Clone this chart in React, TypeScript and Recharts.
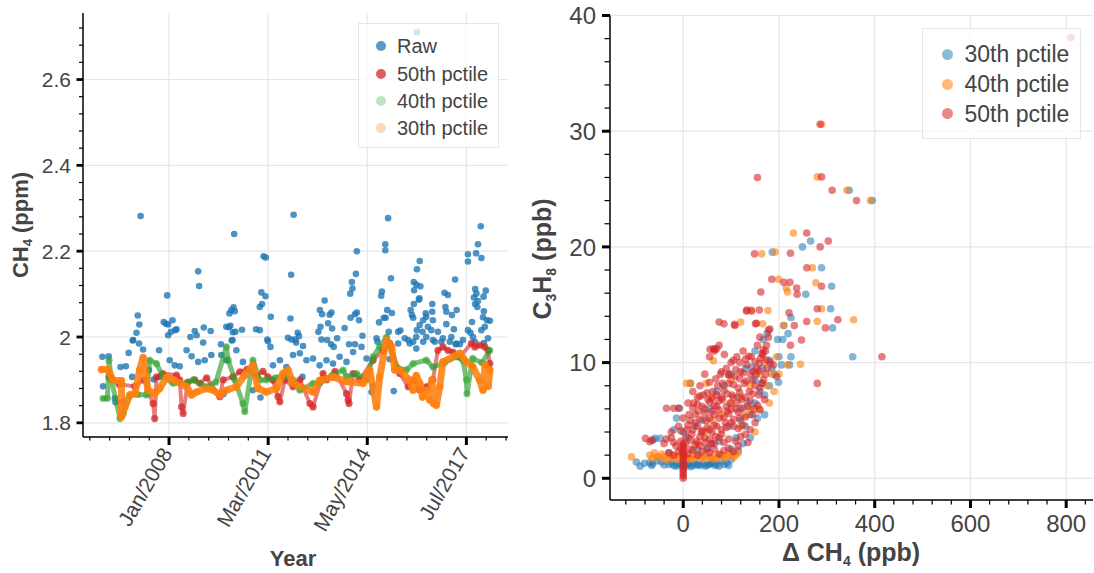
import React from 'react';
import { ScatterChart, Scatter, XAxis, YAxis, CartesianGrid } from 'recharts';

const FONT = "'Liberation Sans', Arial, Helvetica, sans-serif";
const INK = '#444';
const GRID = '#e6e6e6';

const BLUE = '#1f77b4';
const ORANGE = '#ff7f0e';
const GREEN = '#2ca02c';
const RED = '#d62728';

// ---- left panel: CH4 vs time (decimal year, ppm) ----
const LEFT_X_MAJOR = [2008, 2011.1667, 2014.3333, 2017.5];
const LEFT_X_LABELS = ['Jan/2008', 'Mar/2011', 'May/2014', 'Jul/2017'];
const LEFT_X_MINOR = [2005.467, 2006.1, 2006.733, 2007.367, 2008.633, 2009.267, 2009.9, 2010.533, 2011.8, 2012.433, 2013.067, 2013.7, 2014.967, 2015.6, 2016.233, 2016.867, 2018.133, 2018.767];
const LEFT_Y_MAJOR = [1.8, 2.0, 2.2, 2.4, 2.6];
const LEFT_Y_LABELS = ['1.8', '2', '2.2', '2.4', '2.6'];
const LEFT_Y_MINOR = [1.84, 1.88, 1.92, 1.96, 2.04, 2.08, 2.12, 2.16, 2.24, 2.28, 2.32, 2.36, 2.44, 2.48, 2.52, 2.56, 2.64, 2.68, 2.72];

const RAW = [
  [2005.87, 1.954], [2005.89, 1.885], [2006.07, 1.955], [2006.27, 1.857], [2006.29, 1.848], [2006.45, 1.93], [2006.5, 1.848], [2006.62, 1.932], [2006.71, 1.963], [2006.82, 1.907],
  [2006.84, 1.992], [2006.85, 1.993], [2006.96, 2.01], [2007.0, 2.05], [2007.04, 1.985], [2007.05, 2.029], [2007.09, 2.282], [2007.17, 1.971], [2007.36, 1.923], [2007.51, 1.901],
  [2007.68, 1.969], [2007.7, 1.907], [2007.83, 2.035], [2007.9, 2.031], [2007.94, 2.097], [2007.97, 2.029], [2007.97, 2.004], [2008.02, 1.946], [2008.06, 2.012], [2008.11, 2.039],
  [2008.18, 1.934], [2008.2, 2.016], [2008.24, 2.018], [2008.34, 1.932], [2008.56, 1.969], [2008.68, 2.0], [2008.72, 1.955], [2008.82, 2.014], [2008.88, 2.004], [2008.93, 2.153],
  [2008.93, 1.942], [2008.96, 2.119], [2009.09, 1.987], [2009.11, 2.022], [2009.14, 1.946], [2009.33, 2.014], [2009.35, 1.958], [2009.66, 1.983], [2009.67, 1.958], [2009.74, 1.867],
  [2009.83, 2.024], [2009.83, 1.946], [2009.91, 2.023], [2009.93, 2.055], [2009.96, 2.026], [2009.99, 2.063], [2010.0, 1.992], [2010.03, 1.993], [2010.04, 2.011], [2010.06, 2.069],
  [2010.08, 2.24], [2010.1, 2.06], [2010.12, 2.012], [2010.15, 1.969], [2010.33, 2.017], [2010.36, 1.942], [2010.68, 1.876], [2010.78, 2.018], [2010.9, 2.016], [2010.9, 2.07],
  [2010.92, 1.859], [2010.95, 2.104], [2010.97, 2.077], [2011.02, 2.188], [2011.08, 2.095], [2011.09, 2.185], [2011.14, 1.994], [2011.16, 1.99], [2011.24, 1.977], [2011.25, 2.047],
  [2011.32, 1.934], [2011.54, 1.946], [2011.75, 1.93], [2011.8, 1.998], [2011.88, 2.043], [2011.9, 2.145], [2011.91, 1.994], [2011.96, 1.958], [2011.98, 2.285], [2012.03, 1.994],
  [2012.06, 1.987], [2012.11, 2.01], [2012.15, 2.002], [2012.18, 1.962], [2012.26, 1.907], [2012.28, 1.979], [2012.39, 1.946], [2012.6, 1.95], [2012.77, 2.012], [2012.81, 1.934],
  [2012.82, 2.063], [2012.84, 2.024], [2012.87, 1.994], [2012.89, 2.053], [2012.97, 2.085], [2013.03, 1.946], [2013.05, 1.993], [2013.08, 2.032], [2013.13, 2.052], [2013.18, 1.983],
  [2013.19, 2.057], [2013.21, 2.02], [2013.24, 1.938], [2013.26, 1.977], [2013.37, 1.997], [2013.45, 1.954], [2013.61, 2.021], [2013.67, 1.942], [2013.75, 1.983], [2013.79, 2.101],
  [2013.8, 2.045], [2013.84, 2.128], [2013.86, 2.113], [2013.88, 1.965], [2013.94, 2.053], [2013.94, 1.983], [2013.97, 2.147], [2014.0, 2.2], [2014.0, 2.057], [2014.07, 2.039],
  [2014.15, 1.977], [2014.18, 2.003], [2014.31, 1.95], [2014.47, 1.872], [2014.52, 1.885], [2014.63, 1.997], [2014.66, 1.989], [2014.71, 2.034], [2014.78, 2.096], [2014.8, 2.106],
  [2014.86, 2.045], [2014.91, 2.216], [2014.91, 2.202], [2014.92, 2.045], [2014.97, 2.063], [2015.0, 2.277], [2015.02, 2.012], [2015.05, 1.948], [2015.09, 2.137], [2015.12, 2.056],
  [2015.18, 1.874], [2015.32, 2.012], [2015.32, 1.985], [2015.39, 2.015], [2015.53, 1.997], [2015.64, 1.993], [2015.69, 1.985], [2015.72, 2.063], [2015.76, 2.051], [2015.8, 2.045],
  [2015.8, 1.989], [2015.82, 2.077], [2015.82, 2.128], [2015.83, 2.109], [2015.9, 2.122], [2015.9, 2.0], [2015.9, 1.973], [2015.92, 2.158], [2015.92, 2.016], [2015.92, 2.71],
  [2015.98, 2.087], [2016.0, 2.09], [2016.01, 2.177], [2016.01, 2.028], [2016.03, 2.118], [2016.1, 2.012], [2016.12, 2.039], [2016.12, 1.989], [2016.2, 2.055], [2016.22, 2.047],
  [2016.22, 2.0], [2016.27, 2.024], [2016.38, 2.016], [2016.41, 2.077], [2016.41, 2.059], [2016.43, 2.039], [2016.43, 1.993], [2016.49, 1.989], [2016.59, 2.012], [2016.7, 1.989],
  [2016.75, 1.997], [2016.8, 2.103], [2016.83, 2.07], [2016.86, 2.059], [2016.86, 2.03], [2016.91, 2.098], [2016.97, 1.989], [2017.02, 2.0], [2017.04, 2.051], [2017.1, 2.018],
  [2017.14, 2.134], [2017.16, 1.983], [2017.18, 1.985], [2017.19, 2.063], [2017.29, 1.983], [2017.39, 1.993], [2017.55, 2.193], [2017.55, 2.176], [2017.55, 2.016], [2017.63, 2.01],
  [2017.68, 2.035], [2017.71, 2.0], [2017.74, 2.092], [2017.77, 1.989], [2017.78, 2.112], [2017.78, 2.077], [2017.81, 2.195], [2017.82, 2.101], [2017.85, 2.07], [2017.87, 2.216],
  [2017.87, 2.084], [2017.96, 2.258], [2017.98, 2.184], [2017.98, 2.016], [2018.03, 2.046], [2018.05, 2.094], [2018.06, 2.06], [2018.06, 1.986], [2018.09, 2.024], [2018.12, 2.108],
  [2018.16, 2.039], [2018.19, 1.997], [2018.25, 2.038],
];

const P50 = [
  [2006.08, 1.907], [2006.16, 1.903], [2006.4, 1.89], [2006.9, 1.885], [2007.2, 1.9], [2007.49, 1.845], [2007.54, 1.81], [2007.6, 1.907], [2007.8, 1.915], [2008.24, 1.911],
  [2008.34, 1.9], [2008.4, 1.837], [2008.45, 1.822], [2008.6, 1.895], [2008.82, 1.9], [2008.98, 1.892], [2009.2, 1.905], [2009.62, 1.861], [2009.73, 1.9], [2010.04, 1.907],
  [2010.26, 1.919], [2010.5, 1.925], [2010.8, 1.91], [2011.0, 1.92], [2011.16, 1.907], [2011.32, 1.899], [2011.48, 1.861], [2011.54, 1.849], [2011.7, 1.9], [2011.96, 1.884],
  [2012.18, 1.9], [2012.5, 1.845], [2012.6, 1.837], [2012.92, 1.915], [2013.03, 1.9], [2013.3, 1.92], [2013.67, 1.868], [2013.72, 1.853], [2013.75, 1.845], [2013.88, 1.915],
  [2014.09, 1.9], [2014.52, 1.946], [2014.84, 1.969], [2015.05, 1.985], [2015.37, 1.915], [2015.64, 1.884], [2015.8, 1.9], [2016.01, 1.876], [2016.22, 1.884], [2016.43, 1.9],
  [2016.59, 1.969], [2016.75, 1.977], [2016.91, 1.969], [2017.07, 1.965], [2017.29, 1.954], [2017.66, 1.985], [2017.77, 1.977], [2017.93, 1.981], [2018.09, 1.977], [2018.19, 1.969],
  [2018.25, 1.938],
];

const P40 = [
  [2005.89, 1.857], [2006.03, 1.857], [2006.08, 1.946], [2006.16, 1.9], [2006.43, 1.81], [2006.54, 1.822], [2006.75, 1.865], [2007.0, 1.866], [2007.28, 1.865], [2007.38, 1.946],
  [2007.6, 1.938], [2007.81, 1.907], [2008.13, 1.892], [2008.56, 1.892], [2008.77, 1.9], [2009.19, 1.884], [2009.5, 1.895], [2009.83, 1.977], [2009.89, 1.946], [2010.1, 1.9],
  [2010.36, 1.845], [2010.42, 1.826], [2010.68, 1.946], [2010.9, 1.9], [2011.11, 1.9], [2011.4, 1.905], [2011.7, 1.91], [2011.96, 1.9], [2012.18, 1.876], [2012.6, 1.892],
  [2012.81, 1.892], [2013.2, 1.91], [2013.56, 1.923], [2013.67, 1.907], [2013.99, 1.915], [2014.3, 1.9], [2014.52, 1.954], [2014.73, 1.977], [2014.95, 2.0], [2015.27, 1.93],
  [2015.58, 1.923], [2015.8, 1.938], [2016.22, 1.946], [2016.43, 1.93], [2016.8, 1.94], [2017.18, 1.954], [2017.39, 1.946], [2017.5, 1.9], [2017.52, 1.868], [2017.7, 1.95],
  [2018.0, 1.94], [2018.25, 1.969],
];

const P30 = [
  [2005.84, 1.924], [2006.05, 1.924], [2006.21, 1.899], [2006.48, 1.898], [2006.48, 1.814], [2006.59, 1.837], [2006.75, 1.865], [2006.91, 1.868], [2007.06, 1.923], [2007.17, 1.952],
  [2007.33, 1.876], [2007.54, 1.868], [2007.7, 1.88], [2007.92, 1.906], [2008.18, 1.899], [2008.56, 1.884], [2008.72, 1.865], [2008.88, 1.872], [2009.19, 1.88], [2009.41, 1.876],
  [2009.62, 1.865], [2009.83, 1.876], [2010.15, 1.884], [2010.42, 1.911], [2010.68, 1.934], [2010.84, 1.88], [2011.11, 1.872], [2011.43, 1.88], [2011.64, 1.915], [2011.8, 1.923],
  [2011.96, 1.892], [2012.6, 1.872], [2012.81, 1.899], [2013.24, 1.907], [2013.67, 1.896], [2014.2, 1.892], [2014.41, 1.923], [2014.63, 1.837], [2014.73, 1.907], [2014.95, 1.993],
  [2015.11, 1.977], [2015.21, 1.923], [2015.37, 1.923], [2015.69, 1.899], [2015.8, 1.876], [2015.9, 1.91], [2016.01, 1.892], [2016.1, 1.86], [2016.22, 1.876], [2016.33, 1.853],
  [2016.4, 1.9], [2016.45, 1.845], [2016.54, 1.841], [2016.65, 1.884], [2016.75, 1.942], [2017.29, 1.962], [2017.5, 1.942], [2017.71, 1.93], [2017.93, 1.899], [2018.03, 1.876],
  [2018.1, 1.935], [2018.2, 1.885], [2018.25, 1.923],
];

// ---- right panel: C3H8 (ppb) vs delta CH4 (ppb) ----
const RIGHT_X_MAJOR = [0, 200, 400, 600, 800];
const RIGHT_X_MINOR = [-120, -80, -40, 40, 80, 120, 160, 240, 280, 320, 360, 440, 480, 520, 560, 640, 680, 720, 760, 840];
const RIGHT_Y_MAJOR = [0, 10, 20, 30, 40];
const RIGHT_Y_MINOR = [2, 4, 6, 8, 12, 14, 16, 18, 22, 24, 26, 28, 32, 34, 36, 38];

const Q30 = [
  [-98, 1.4], [-90, 1.05], [-81, 1.3], [-70, 1.35], [-66, 1.1], [-64, 1.25], [-55, 1.5], [-45, 1.4], [-40, 1.15], [-30, 1.2], [-25, 1.35], [-20, 1.1], [-15, 1.05],
  [-12, 1.25], [-5, 1.1], [0, 1.15], [5, 1.05], [8, 1.3], [12, 1.2], [16, 1.0], [20, 1.1], [24, 1.3], [28, 1.15], [32, 1.2], [35, 1.1], [42, 1.25], [46, 1.05],
  [50, 1.15], [54, 1.2], [58, 1.3], [63, 1.3], [66, 1.1], [70, 1.2], [75, 1.05], [80, 1.5], [85, 1.2], [91, 1.3], [95, 1.1], [100, 1.6],
  [-63, 3.3], [-59, 3.45], [-48, 3.45], [-30, 2.2], [-20, 4.2], [-14, 5.2], [-9, 6.05], [0, 4.0], [10, 3.5], [15, 8.2], [25, 4.5], [30, 2.5], [40, 5.0], [50, 2.5],
  [55, 6.0], [60, 3.0], [70, 7.5], [75, 3.2], [85, 8.0], [95, 4.5], [100, 9.0], [100, 2.5], [110, 3.5], [115, 7.0], [115, 2.4], [120, 6.0], [120, 5.0], [125, 3.0],
  [130, 9.5], [130, 4.5], [135, 6.5], [140, 5.5], [140, 3.5], [143, 9.6], [150, 11.0], [150, 6.5], [150, 8.5], [155, 5.2], [160, 7.5], [164, 8.2], [165, 9.5],
  [167, 12.0], [170, 7.2], [170, 5.5], [175, 12.5], [180, 8.0], [180, 10.2], [185, 9.5], [190, 9.0], [197, 12.0], [199, 8.3], [200, 10.5], [205, 9.8], [208, 12.0],
  [210, 13.2], [219, 12.5], [222, 9.8], [225, 10.5], [225, 13.9],
  [186, 19.55], [249, 20.0], [256, 15.9], [266, 20.5], [289, 18.2], [310, 16.6], [308, 14.65], [312, 13.0], [347, 24.9], [354, 10.5], [395, 24.0],
];

const Q40 = [
  [-108, 1.85], [-70, 2.0], [-65, 1.7], [-60, 2.2], [-55, 1.9], [-50, 1.8], [-45, 2.1], [-40, 1.9], [-35, 1.6], [-30, 1.7], [-25, 2.0], [-20, 1.8], [-15, 1.65],
  [-10, 1.9], [-5, 2.0], [0, 1.7], [5, 1.9], [10, 1.8], [15, 1.65], [20, 1.7], [25, 2.0], [30, 1.9], [35, 1.7], [40, 1.8], [45, 2.0], [50, 1.7], [55, 1.8],
  [60, 1.9], [65, 1.65], [70, 1.8], [75, 2.0], [80, 2.0], [85, 1.7], [90, 1.9], [95, 2.0], [100, 2.2], [105, 1.8], [110, 2.0], [115, 2.2],
  [7, 8.2], [15, 8.2], [30, 3.0], [45, 4.0], [48, 8.2], [60, 5.0], [60, 7.0], [63, 10.15], [80, 5.5], [100, 6.5], [100, 8.5], [120, 7.0], [120, 4.5], [120, 13.5],
  [130, 5.5], [140, 8.0], [140, 6.0], [142, 14.55], [150, 4.0], [160, 9.0], [160, 6.0], [164, 19.4], [166, 13.35], [170, 10.0], [175, 8.0], [177, 14.5], [180, 6.5],
  [185, 9.0], [190, 7.5], [192, 19.55], [195, 10.5], [199, 17.2], [200, 9.0], [210, 13.2], [215, 16.45], [218, 16.1], [218, 9.8], [230, 21.2], [245, 9.85],
  [270, 18.2], [277, 16.9], [280, 13.55], [280, 26.05], [289, 14.65], [289, 30.6], [342, 24.9], [356, 13.7], [391, 24.0],
];

const Q50 = [
  [0, 0], [0, 0.2], [0, 0.4], [0, 0.6], [0, 0.8], [0, 1.0], [0, 1.2], [0, 1.4], [0, 1.6], [0, 1.8], [0, 2.0], [0, 2.2], [0, 2.4], [0, 2.6], [0, 2.8], [0, 3.0],
  [-79, 3.45], [-70, 3.16], [-66, 3.3], [-40, 3.0], [-35, 6.05], [-35, 3.4], [-30, 2.2], [-25, 3.5], [-25, 4.0], [-20, 6.05], [-20, 3.1], [-20, 2.0], [-15, 2.8],
  [-10, 4.5], [-10, 2.3], [-9, 6.05], [-5, 3.2], [-5, 2.6], [-5, 4.1], [0, 5.2], [5, 3.0], [5, 3.6], [8, 4.2], [10, 6.5], [10, 2.1], [10, 4.6], [12, 5.5],
  [15, 2.5], [15, 3.3], [15, 5.0], [18, 3.8], [20, 7.5], [20, 2.4], [20, 4.2], [20, 6.1], [22, 6.5], [25, 4.8], [25, 2.9], [25, 5.5], [28, 3.2], [30, 7.0],
  [30, 2.0], [30, 4.5], [30, 6.4], [32, 5.8], [35, 2.8], [35, 8.0], [35, 3.6], [35, 5.1], [35, 7.1], [38, 4.0], [40, 6.2], [40, 2.3], [40, 4.1], [42, 7.2],
  [45, 3.5], [45, 9.0], [45, 3.1], [45, 5.6], [45, 6.0], [48, 5.0], [50, 2.6], [50, 4.4], [50, 7.4], [52, 6.8], [55, 4.2], [55, 10.5], [55, 2.2], [55, 3.4],
  [55, 5.2], [55, 6.6], [55, 8.3], [56, 11.15], [58, 3.0], [60, 5.8], [60, 4.0], [60, 6.9], [62, 7.5], [65, 4.6], [65, 11.0], [65, 2.5], [65, 3.0], [65, 5.5],
  [65, 6.3], [66, 11.15], [68, 3.6], [68, 8.6], [70, 6.2], [70, 4.5], [70, 7.2], [72, 8.0], [75, 5.2], [75, 11.5], [75, 2.1], [75, 3.5], [75, 5.9], [75, 6.7],
  [78, 9.0], [80, 3.8], [80, 4.2], [80, 7.0], [80, 9.2], [82, 6.8], [82, 8.2], [85, 7.6], [85, 2.4], [85, 3.1], [85, 5.3], [88, 4.8], [90, 9.5], [90, 4.4],
  [90, 6.2], [92, 5.8], [92, 7.3], [95, 8.2], [95, 2.6], [95, 3.4], [95, 5.6], [95, 8.9], [95, 9.0], [98, 6.5], [100, 10.0], [100, 4.8], [100, 6.0], [102, 7.2],
  [105, 4.5], [105, 2.3], [105, 5.1], [105, 7.0], [105, 8.1], [105, 10.2], [108, 8.8], [108, 13.2], [110, 6.0], [110, 3.2], [110, 9.4], [112, 10.5], [112, 6.5],
  [115, 7.8], [115, 2.8], [115, 4.3], [115, 5.7], [118, 5.2], [118, 7.4], [118, 8.6], [118, 10.0], [120, 9.2], [120, 3.6], [122, 6.8], [125, 11.0], [125, 4.6],
  [125, 6.1], [125, 9.1], [128, 8.2], [130, 3.8], [130, 5.3], [130, 7.0], [130, 10.3], [132, 14.45], [132, 8.4], [133, 9.8], [135, 6.2], [135, 3.1], [138, 7.5],
  [140, 4.2], [140, 6.7], [140, 9.0], [142, 10.5], [143, 14.45], [145, 8.5], [145, 5.5], [145, 7.3], [146, 9.2], [148, 6.0], [150, 4.8], [150, 8.0], [150, 10.1],
  [152, 9.0], [153, 9.5], [153, 13.4], [155, 11.5], [155, 6.3], [158, 7.2], [158, 9.3], [159, 9.94], [160, 12.2], [160, 5.9], [160, 7.8], [162, 10.4], [165, 10.8],
  [165, 8.2], [166, 10.65], [167, 11.1], [168, 8.5], [170, 6.8], [172, 11.0], [172, 9.0], [174, 11.5], [175, 9.5], [175, 10.2], [178, 12.2], [178, 12.8],
  [181, 12.9], [182, 10.0], [188, 9.8], [195, 8.8],
  [155, 26.0], [286, 30.6], [289, 26.05], [311, 24.9], [362, 24.0], [258, 21.2], [303, 20.5], [286, 20.0], [224, 19.45], [149, 19.4], [258, 18.2], [185, 17.2],
  [210, 16.95], [223, 16.95], [237, 16.45], [238, 15.9], [289, 16.6], [162, 16.1], [133, 14.55], [159, 14.55], [221, 14.3], [280, 14.65], [323, 13.7], [258, 13.55],
  [297, 13.0], [75, 13.5], [85, 13.35], [107, 13.3], [151, 13.35], [232, 13.2], [247, 11.95], [224, 11.5], [63, 11.2], [70, 11.2], [86, 10.7], [137, 10.55],
  [280, 8.2], [415, 10.5], [810, 38.1],
];

const pts = (arr: number[][]) => arr.map(([x, y]) => ({ x, y }));
const majorIndex = (list: number[], v: number) => list.findIndex((m) => Math.abs(m - v) < 1e-6);

const dot = (r: number, fill: string, opacity: number) => (p: any) => (
  <circle cx={p.cx} cy={p.cy} r={r} fill={fill} fillOpacity={opacity} />
);

function LeftXTick(props: any) {
  const { x, y, payload } = props;
  const i = majorIndex(LEFT_X_MAJOR, payload.value);
  if (i < 0) return <line x1={x} y1={y} x2={x} y2={y + 3.5} stroke="#000" strokeWidth={1.2} />;
  const tx = x + 4;
  const ty = y + 16;
  return (
    <g>
      <line x1={x} y1={y} x2={x} y2={y + 8} stroke="#000" strokeWidth={3} />
      <text x={tx} y={ty} textAnchor="end" fontSize={21} fill={INK} fontFamily={FONT} transform={`rotate(-60, ${tx}, ${ty})`}>
        {LEFT_X_LABELS[i]}
      </text>
    </g>
  );
}

function LeftYTick(props: any) {
  const { x, y, payload } = props;
  const i = majorIndex(LEFT_Y_MAJOR, payload.value);
  if (i < 0) return <line x1={x - 4} y1={y} x2={x} y2={y} stroke="#000" strokeWidth={1.2} />;
  return (
    <g>
      <line x1={x - 6.5} y1={y} x2={x} y2={y} stroke="#000" strokeWidth={2.8} />
      <text x={x - 12} y={y} dy="0.36em" textAnchor="end" fontSize={21} fill={INK} fontFamily={FONT}>
        {LEFT_Y_LABELS[i]}
      </text>
    </g>
  );
}

function RightXTick(props: any) {
  const { x, y, payload } = props;
  const i = majorIndex(RIGHT_X_MAJOR, payload.value);
  if (i < 0) return <line x1={x} y1={y} x2={x} y2={y + 4.5} stroke="#000" strokeWidth={1.2} />;
  return (
    <g>
      <line x1={x} y1={y} x2={x} y2={y + 8} stroke="#000" strokeWidth={3} />
      <text x={x} y={y + 32} textAnchor="middle" fontSize={24} fill={INK} fontFamily={FONT}>
        {RIGHT_X_MAJOR[i]}
      </text>
    </g>
  );
}

function RightYTick(props: any) {
  const { x, y, payload } = props;
  const i = majorIndex(RIGHT_Y_MAJOR, payload.value);
  if (i < 0) return <line x1={x - 5.5} y1={y} x2={x} y2={y} stroke="#000" strokeWidth={1.2} />;
  return (
    <g>
      <line x1={x - 8} y1={y} x2={x} y2={y} stroke="#000" strokeWidth={3} />
      <text x={x - 14} y={y} dy="0.36em" textAnchor="end" fontSize={24} fill={INK} fontFamily={FONT}>
        {RIGHT_Y_MAJOR[i]}
      </text>
    </g>
  );
}

function LegendBox({ left, top, width, height, markerX, textX, rows, fontSize, r, items }: any) {
  return (
    <div
      style={{
        position: 'absolute', left, top, width, height, boxSizing: 'border-box',
        background: 'rgba(255,255,255,0.75)', border: '1px solid #e6e6e6',
      }}
    >
      {items.map((it: any, k: number) => (
        <React.Fragment key={it.label}>
          <div
            style={{
              position: 'absolute', left: markerX - r, top: rows[k] - r, width: 2 * r, height: 2 * r,
              borderRadius: '50%', background: it.color,
            }}
          />
          <div
            style={{
              position: 'absolute', left: textX, top: rows[k] - 15, height: 30, lineHeight: '30px',
              fontSize, color: INK, whiteSpace: 'nowrap', fontFamily: FONT,
            }}
          >
            {it.label}
          </div>
        </React.Fragment>
      ))}
    </div>
  );
}

const axisLine = { stroke: '#000', strokeWidth: 1.5 };

export default function App() {
  return (
    <div style={{ position: 'absolute', left: 0, top: 0, width: 1094, height: 573, background: '#fff', overflow: 'hidden', fontFamily: FONT }}>
      <div style={{ position: 'absolute', left: 0, top: 0 }}>
        <ScatterChart width={540} height={573} margin={{ top: 13, right: 32, bottom: 0, left: 0 }}>
          <CartesianGrid stroke={GRID} strokeWidth={1.2} horizontalValues={LEFT_Y_MAJOR} verticalValues={LEFT_X_MAJOR} />
          <XAxis
            type="number" dataKey="x" domain={[2005.25, 2018.83]} allowDataOverflow
            ticks={[...LEFT_X_MAJOR, ...LEFT_X_MINOR].sort((a, b) => a - b)} interval={0}
            height={136} tickSize={0} tickMargin={0} tickLine={false} axisLine={axisLine}
            tick={(p: any) => <LeftXTick {...p} />}
          />
          <YAxis
            type="number" dataKey="y" domain={[1.767, 2.755]} allowDataOverflow
            ticks={[...LEFT_Y_MAJOR, ...LEFT_Y_MINOR].sort((a, b) => a - b)} interval={0}
            width={83} tickSize={0} tickMargin={0} tickLine={false} axisLine={axisLine}
            tick={(p: any) => <LeftYTick {...p} />}
          />
          <Scatter data={pts(RAW)} isAnimationActive={false} shape={dot(3.3, BLUE, 0.8)} />
          <Scatter
            data={pts(P50)} isAnimationActive={false} shape={dot(3.6, RED, 0.75)}
            line={{ stroke: RED, strokeWidth: 4, strokeOpacity: 0.6, strokeLinejoin: 'round', strokeLinecap: 'round' }}
          />
          <Scatter
            data={pts(P40)} isAnimationActive={false} shape={dot(3.6, GREEN, 0.55)}
            line={{ stroke: GREEN, strokeWidth: 5, strokeOpacity: 0.65, strokeLinejoin: 'round', strokeLinecap: 'round' }}
          />
          <Scatter
            data={pts(P30)} isAnimationActive={false} shape={dot(3.8, ORANGE, 0.7)}
            line={{ stroke: ORANGE, strokeWidth: 7, strokeOpacity: 0.88, strokeLinejoin: 'round', strokeLinecap: 'round' }}
          />
        </ScatterChart>
      </div>

      <div style={{ position: 'absolute', left: 540, top: 0 }}>
        <ScatterChart width={554} height={573} margin={{ top: 15.5, right: 1, bottom: 0, left: 0 }}>
          <CartesianGrid stroke={GRID} strokeWidth={1.2} horizontalValues={RIGHT_Y_MAJOR} verticalValues={RIGHT_X_MAJOR} />
          <XAxis
            type="number" dataKey="x" domain={[-153, 856]} allowDataOverflow
            ticks={[...RIGHT_X_MAJOR, ...RIGHT_X_MINOR].sort((a, b) => a - b)} interval={0}
            height={73} tickSize={0} tickMargin={0} tickLine={false} axisLine={axisLine}
            tick={(p: any) => <RightXTick {...p} />}
          />
          <YAxis
            type="number" dataKey="y" domain={[-1.876, 40]} allowDataOverflow
            ticks={[...RIGHT_Y_MAJOR, ...RIGHT_Y_MINOR].sort((a, b) => a - b)} interval={0}
            width={70} tickSize={0} tickMargin={0} tickLine={false} axisLine={axisLine}
            tick={(p: any) => <RightYTick {...p} />}
          />
          <Scatter data={pts(Q30)} isAnimationActive={false} shape={dot(3.8, BLUE, 0.55)} />
          <Scatter data={pts(Q40)} isAnimationActive={false} shape={dot(3.8, ORANGE, 0.6)} />
          <Scatter data={pts(Q50)} isAnimationActive={false} shape={dot(3.8, RED, 0.6)} />
        </ScatterChart>
      </div>

      <svg width={1094} height={573} style={{ position: 'absolute', left: 0, top: 0, pointerEvents: 'none' }}>
        <text x={28} y={225} transform="rotate(-90, 28, 225)" textAnchor="middle" fontWeight="bold" fontSize={22} fill={INK} fontFamily={FONT}>
          CH<tspan fontSize={13} dy={4}>4</tspan><tspan dy={-4}>{' (ppm)'}</tspan>
        </text>
        <text x={293} y={566} textAnchor="middle" fontWeight="bold" fontSize={22} fill={INK} fontFamily={FONT}>
          Year
        </text>
        <text x={551} y={259} transform="rotate(-90, 551, 259)" textAnchor="middle" fontWeight="bold" fontSize={25} fill={INK} fontFamily={FONT}>
          C<tspan fontSize={14} dy={5}>3</tspan><tspan dy={-5}>H</tspan><tspan fontSize={14} dy={5}>8</tspan><tspan dy={-5}>{' (ppb)'}</tspan>
        </text>
        <text x={851} y={561} textAnchor="middle" fontWeight="bold" fontSize={25} fill={INK} fontFamily={FONT}>
          {'Δ CH'}<tspan fontSize={14} dy={5}>4</tspan><tspan dy={-5}>{' (ppb)'}</tspan>
        </text>
      </svg>

      <LegendBox
        left={358} top={23} width={141} height={125} markerX={22} textX={38} rows={[22, 49.5, 77, 103.5]}
        fontSize={20} r={5}
        items={[
          { label: 'Raw', color: 'rgba(31,119,180,0.75)' },
          { label: '50th pctile', color: 'rgba(214,39,40,0.75)' },
          { label: '40th pctile', color: 'rgba(44,160,44,0.3)' },
          { label: '30th pctile', color: 'rgba(255,127,14,0.3)' },
        ]}
      />
      <LegendBox
        left={922} top={28} width={159} height={111} markerX={24} textX={41.5} rows={[25, 55, 84.5]}
        fontSize={23} r={5.5}
        items={[
          { label: '30th pctile', color: 'rgba(31,119,180,0.5)' },
          { label: '40th pctile', color: 'rgba(255,127,14,0.55)' },
          { label: '50th pctile', color: 'rgba(214,39,40,0.55)' },
        ]}
      />
    </div>
  );
}
